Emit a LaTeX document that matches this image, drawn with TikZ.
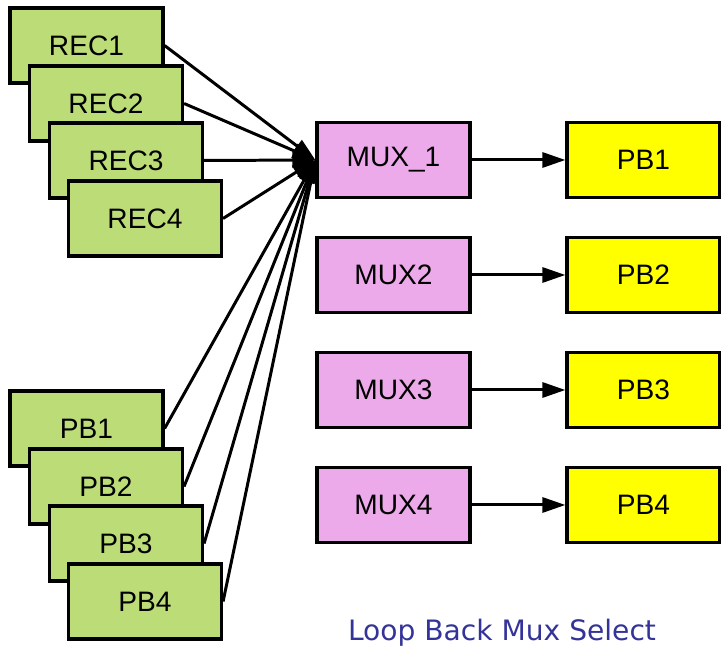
\documentclass[tikz,border=0pt]{standalone}
\usepackage{fontspec}
\setmainfont{Liberation Sans}
\newfontfamily\titlefont{DejaVu Sans}
\usetikzlibrary{arrows.meta}
\definecolor{recgreen}{RGB}{188,220,120}
\definecolor{muxpink}{RGB}{236,170,234}
\definecolor{pbyellow}{RGB}{255,255,0}
\definecolor{titleblue}{RGB}{51,51,153}
\begin{document}
\begin{tikzpicture}
    	[unit/.style={rectangle, draw, line width=1.8pt, minimum width=3.06cm, minimum height=1.5cm, font=\fontsize{16}{18}\selectfont},
    	 feed/.style={line width=1.7pt, -{Triangle[length=0.46cm, width=0.3cm]}}]
    	
    	\useasboundingbox (0,0) rectangle (14.42,13.02);
    	
    	\node[unit, fill=recgreen] (rec1) at (1.73,12.11) {REC1};
    	\node[unit, fill=recgreen] (rec2) at (2.12,10.95) {REC2};
    	\node[unit, fill=recgreen] (rec3) at (2.52,9.81) {REC3};
    	\node[unit, fill=recgreen] (rec4) at (2.90,8.65) {REC4};
    	
    	\node[unit, fill=recgreen] (pbin1) at (1.73,4.45) {PB1};
    	\node[unit, fill=recgreen] (pbin2) at (2.12,3.29) {PB2};
    	\node[unit, fill=recgreen] (pbin3) at (2.52,2.15) {PB3};
    	\node[unit, fill=recgreen] (pbin4) at (2.90,0.99) {PB4};
    	
    	\node[unit, fill=muxpink] (mux1) at (7.87,9.82) {MUX\_1};
    	\node[unit, fill=muxpink] (mux2) at (7.87,7.52) {MUX2};
    	\node[unit, fill=muxpink] (mux3) at (7.87,5.22) {MUX3};
    	\node[unit, fill=muxpink] (mux4) at (7.87,2.92) {MUX4};
    	
    	\node[unit, fill=pbyellow] (pb1) at (12.87,9.82) {PB1};
    	\node[unit, fill=pbyellow] (pb2) at (12.87,7.52) {PB2};
    	\node[unit, fill=pbyellow] (pb3) at (12.87,5.22) {PB3};
    	\node[unit, fill=pbyellow] (pb4) at (12.87,2.92) {PB4};
    	
    	\draw[feed] (rec1.east) -- (mux1.west);
    	\draw[feed] (rec2.east) -- (mux1.west);
    	\draw[feed] (rec3.east) -- (mux1.west);
    	\draw[feed] (rec4.east) -- (mux1.west);
    	\draw[feed] (pbin1.east) -- (mux1.west);
    	\draw[feed] (pbin2.east) -- (mux1.west);
    	\draw[feed] (pbin3.east) -- (mux1.west);
    	\draw[feed] (pbin4.east) -- (mux1.west);
    	
    	\draw[feed] (mux1) -- (pb1);
    	\draw[feed] (mux2) -- (pb2);
    	\draw[feed] (mux3) -- (pb3);
    	\draw[feed] (mux4) -- (pb4);
    	
    	\node[text=titleblue, font=\titlefont\fontsize{16}{18}\selectfont] (title) at (10.04,0.36) {Loop Back Mux Select};
    \end{tikzpicture}
\end{document}
